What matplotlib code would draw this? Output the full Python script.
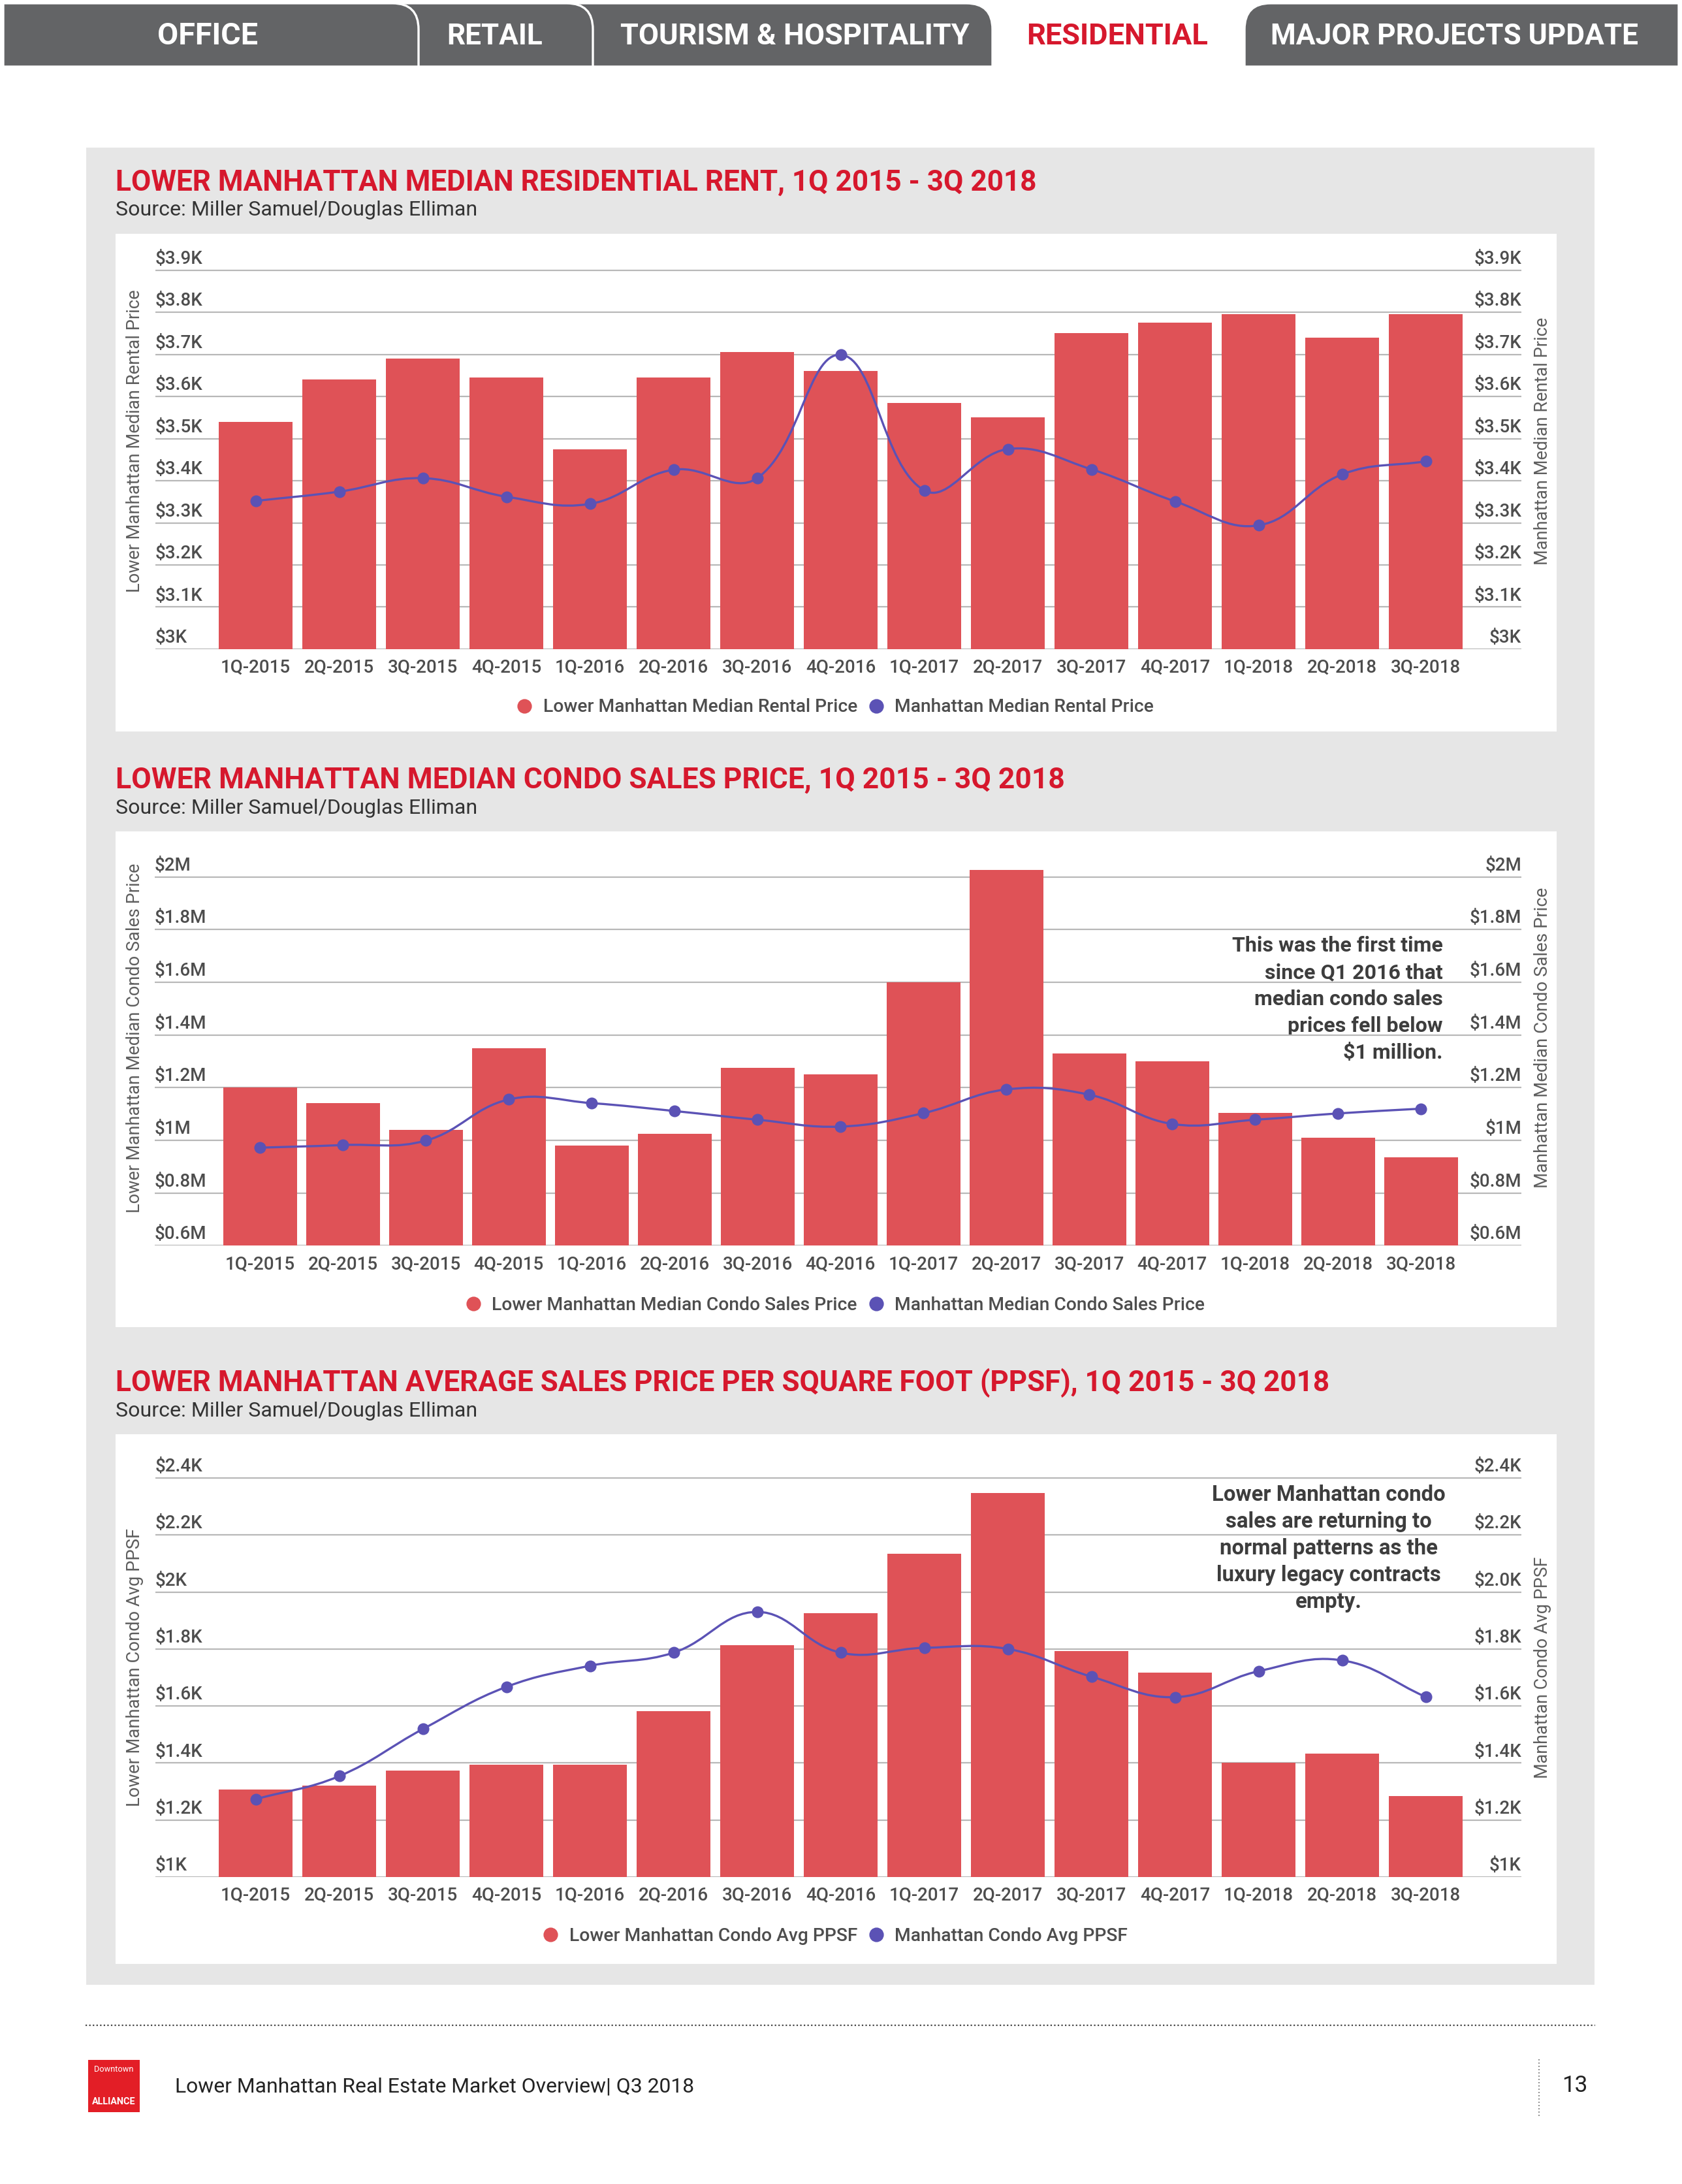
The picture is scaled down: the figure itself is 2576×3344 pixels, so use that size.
import math
import matplotlib
matplotlib.use("Agg")
import matplotlib.pyplot as plt
from matplotlib.path import Path
from matplotlib.patches import PathPatch, Rectangle
from matplotlib.lines import Line2D
from matplotlib import transforms, font_manager

W, H = 2576, 3344
DPI = 200

# ---- data ----
quarters = ['1Q-2015', '2Q-2015', '3Q-2015', '4Q-2015', '1Q-2016', '2Q-2016', '3Q-2016', '4Q-2016',
            '1Q-2017', '2Q-2017', '3Q-2017', '4Q-2017', '1Q-2018', '2Q-2018', '3Q-2018']

# median rent, dollars
rent_lower = [3540, 3640, 3690, 3645, 3475, 3645, 3705, 3660, 3585, 3550, 3750, 3775, 3795, 3740, 3795]
rent_manhattan = [3352, 3374, 3406, 3362, 3345, 3426, 3406, 3699, 3377, 3475, 3427, 3351, 3294, 3415, 3446]
rent_ticks = [3000, 3100, 3200, 3300, 3400, 3500, 3600, 3700, 3800, 3900]
rent_labels_left = ['$3K', '$3.1K', '$3.2K', '$3.3K', '$3.4K', '$3.5K', '$3.6K', '$3.7K', '$3.8K', '$3.9K']
rent_labels_right = rent_labels_left

# median condo price, $M
condo_lower = [1.20, 1.14, 1.04, 1.35, 0.98, 1.025, 1.275, 1.25, 1.60, 2.025, 1.33, 1.30, 1.105, 1.01, 0.935]
condo_manhattan = [0.972, 0.982, 0.999, 1.155, 1.141, 1.111, 1.078, 1.052, 1.103, 1.193, 1.173, 1.062, 1.078, 1.102, 1.120]
condo_ticks = [0.6, 0.8, 1.0, 1.2, 1.4, 1.6, 1.8, 2.0]
condo_labels_left = ['$0.6M', '$0.8M', '$1M', '$1.2M', '$1.4M', '$1.6M', '$1.8M', '$2M']
condo_labels_right = condo_labels_left

# avg ppsf, $K
ppsf_lower = [1.307, 1.320, 1.373, 1.395, 1.395, 1.581, 1.814, 1.926, 2.135, 2.347, 1.792, 1.718, 1.401, 1.432, 1.283]
ppsf_manhattan = [1.273, 1.354, 1.519, 1.667, 1.741, 1.787, 1.930, 1.787, 1.804, 1.800, 1.703, 1.631, 1.722, 1.760, 1.632]
ppsf_ticks = [1.0, 1.2, 1.4, 1.6, 1.8, 2.0, 2.2, 2.4]
ppsf_labels_left = ['$1K', '$1.2K', '$1.4K', '$1.6K', '$1.8K', '$2K', '$2.2K', '$2.4K']
ppsf_labels_right = ['$1K', '$1.2K', '$1.4K', '$1.6K', '$1.8K', '$2.0K', '$2.2K', '$2.4K']

tabs = ['OFFICE', 'RETAIL', 'TOURISM & HOSPITALITY', 'RESIDENTIAL', 'MAJOR PROJECTS UPDATE']

RED = '#df5257'
PURPLE = '#5b52b5'
TITLE_RED = '#d6182d'
TXT = '#4d4d4d'
TAB_GREY = '#636466'

plt.rcParams['font.family'] = ['Roboto', 'DejaVu Sans']
names = {f.name for f in font_manager.fontManager.ttflist}
NARROW = 'Liberation Sans Narrow' if 'Liberation Sans Narrow' in names else 'Roboto'

fig = plt.figure(figsize=(W / DPI, H / DPI), dpi=DPI)
fig.patch.set_facecolor('white')
bg = fig.add_axes([0, 0, 1, 1])
bg.set_xlim(0, W)
bg.set_ylim(H, 0)
bg.axis('off')


def fit(t, width):
    r = fig.canvas.get_renderer()
    w = t.get_window_extent(r).width
    t.set_fontsize(t.get_fontsize() * width / w)
    return t.get_fontsize()


def tab_patch(x0, x1, y0, y1, r, color, left_round=False):
    if left_round:
        verts = [(x1, y1), (x0, y1), (x0, y0 + r), (x0, y0), (x0 + r, y0), (x1, y0), (x1, y1)]
        codes = [Path.MOVETO, Path.LINETO, Path.LINETO, Path.CURVE3, Path.CURVE3, Path.LINETO, Path.CLOSEPOLY]
    else:
        verts = [(x0, y1), (x0, y0), (x1 - r, y0), (x1, y0), (x1, y0 + r), (x1, y1), (x0, y1)]
        codes = [Path.MOVETO, Path.LINETO, Path.LINETO, Path.CURVE3, Path.CURVE3, Path.LINETO, Path.CLOSEPOLY]
    bg.add_patch(PathPatch(Path(verts, codes), fc=color, ec='white', lw=1.2))


# ---- header tabs ----
tab_patch(1906, 2571, 5, 102, 40, TAB_GREY, left_round=True)
tab_patch(860, 1520, 5, 102, 40, TAB_GREY)
tab_patch(590, 908, 5, 102, 40, TAB_GREY)
tab_patch(5, 641, 5, 102, 40, TAB_GREY)
tab_cx = [318, 758, 1217, 1711, 2228]
tab_w = [154, 147, 535, 279, 563]
for name, cx, w in zip(tabs, tab_cx, tab_w):
    c = TITLE_RED if name == 'RESIDENTIAL' else 'white'
    t = bg.text(cx, 68, name, color=c, fontsize=14, fontweight='bold', ha='center', va='baseline')
    fit(t, w)

# ---- grey panel and white boxes ----
bg.add_patch(Rectangle((132, 226), 2310, 2813, color='#e6e6e6', lw=0))
for y0, y1 in [(358, 1120), (1273, 2032), (2196, 3007)]:
    bg.add_patch(Rectangle((177, y0), 2207, y1 - y0, color='white', lw=0))


def spline(ax, xs, ys, sx, sy, color, tension=0.4):
    n = len(xs)
    pts = list(zip(xs, ys))
    cps = []
    for i in range(n):
        px, py = pts[max(i - 1, 0)]
        cx, cy = pts[i]
        nx, ny = pts[min(i + 1, n - 1)]
        d01 = math.hypot((cx - px) * sx, (cy - py) * sy)
        d12 = math.hypot((nx - cx) * sx, (ny - cy) * sy)
        tot = (d01 + d12) or 1.0
        fa, fb = tension * d01 / tot, tension * d12 / tot
        cps.append(((cx - fa * (nx - px), cy - fa * (ny - py)),
                    (cx + fb * (nx - px), cy + fb * (ny - py))))
    verts = [pts[0]]
    codes = [Path.MOVETO]
    for i in range(n - 1):
        verts += [cps[i][1], cps[i + 1][0], pts[i + 1]]
        codes += [Path.CURVE4] * 3
    ax.add_patch(PathPatch(Path(verts, codes), fc='none', ec=color, lw=1.2, zorder=3))


def chart(title, title_w, tb, src_b, lower, manh, ticks, lab_l, lab_r, lo, hi, y0px, ppu,
          c0, pitch, xl, xr, ytitle_l, ytitle_r, ytitle_cy, ytitle_w, leg_labels, leg_y):
    t = bg.text(177, tb, title, color=TITLE_RED, fontsize=15, fontweight='bold', va='baseline')
    fit(t, title_w)
    s = bg.text(177, src_b, 'Source: Miller Samuel/Douglas Elliman', color='#333333', fontsize=10, va='baseline')
    fit(s, 552)

    top = y0px - (hi - lo) * ppu
    ax = fig.add_axes([xl / W, 1 - y0px / H, (xr - xl) / W, (y0px - top) / H])
    ax.patch.set_visible(False)
    ax.set_xlim((xl - c0) / pitch, (xr - c0) / pitch)
    ax.set_ylim(lo, hi)
    for sp in ax.spines.values():
        sp.set_visible(False)
    x = list(range(len(quarters)))
    for tk in ticks:
        ax.axhline(tk, color='#b8b8b8', lw=0.8, zorder=1)
    ax.bar(x, lower, width=0.89, color=RED, zorder=2)
    spline(ax, x, manh, pitch, ppu, PURPLE)
    ax.plot(x, manh, 'o', color=PURPLE, ms=5.5, zorder=4)

    ax.set_yticks([])
    ax.set_xticks(x)
    ax.set_xticklabels(quarters, fontsize=10, color=TXT, fontweight='medium')
    ax.tick_params(axis='x', length=0, pad=5.5)

    tr = transforms.offset_copy(transforms.blended_transform_factory(ax.transAxes, ax.transData),
                                fig=fig, y=1.4, units='points')
    for tk, a, b in zip(ticks, lab_l, lab_r):
        ax.text(0, tk, a, transform=tr, ha='left', va='bottom', fontsize=10, color=TXT, fontweight='medium')
        ax.text(1, tk, b, transform=tr, ha='right', va='bottom', fontsize=10, color=TXT, fontweight='medium')

    for xpos, lab, w in [(207, ytitle_l, ytitle_w[0]), (2363, ytitle_r, ytitle_w[1])]:
        yt = bg.text(xpos, ytitle_cy, lab, rotation=90, ha='center', va='center', fontsize=10,
                     color='#5e5e5e')
        r = fig.canvas.get_renderer()
        yt.set_fontsize(yt.get_fontsize() * w / yt.get_window_extent(r).height)

    handles = [Line2D([], [], marker='o', ls='', color=RED, ms=7),
               Line2D([], [], marker='o', ls='', color=PURPLE, ms=7)]
    fig.legend(handles, leg_labels, loc='center', bbox_to_anchor=(1280 / W, 1 - leg_y / H), ncol=2,
               frameon=False, prop={'size': 10.2, 'weight': 'medium'}, labelcolor=TXT,
               handlelength=0.7, handletextpad=0.66, columnspacing=0.66, borderpad=0, borderaxespad=0)
    return ax


chart('LOWER MANHATTAN MEDIAN RESIDENTIAL RENT, 1Q 2015 - 3Q 2018', 1412, 292, 330,
      rent_lower, rent_manhattan, rent_ticks, rent_labels_left, rent_labels_right,
      3000, 3930, 994, 0.645, 391.5, 128, 238, 2330,
      'Lower Manhattan Median Rental Price', 'Manhattan Median Rental Price', 675, (463, 377),
      ['Lower Manhattan Median Rental Price', 'Manhattan Median Rental Price'], 1083)

chart('LOWER MANHATTAN MEDIAN CONDO SALES PRICE, 1Q 2015 - 3Q 2018', 1450, 1207, 1246,
      condo_lower, condo_manhattan, condo_ticks, condo_labels_left, condo_labels_right,
      0.6, 2.06, 1907.3, 403.4, 398.3, 127, 237, 2330,
      'Lower Manhattan Median Condo Sales Price', 'Manhattan Median Condo Sales Price', 1589, (533, 458),
      ['Lower Manhattan Median Condo Sales Price', 'Manhattan Median Condo Sales Price'], 1998)

chart('LOWER MANHATTAN AVERAGE SALES PRICE PER SQUARE FOOT (PPSF), 1Q 2015 - 3Q 2018', 1860, 2130, 2169,
      ppsf_lower, ppsf_manhattan, ppsf_ticks, ppsf_labels_left, ppsf_labels_right,
      1.0, 2.42, 2874, 436.5, 391.5, 128, 238, 2330,
      'Lower Manhattan Condo Avg PPSF', 'Manhattan Condo Avg PPSF', 2553, (426, 339),
      ['Lower Manhattan Condo Avg PPSF', 'Manhattan Condo Avg PPSF'], 2964)

# ---- annotations ----
note2 = ['This was the first time', 'since Q1 2016 that', 'median condo sales', 'prices fell below', '$1 million.']
t = bg.text(2210, 1457, note2[0], ha='right', va='baseline', fontsize=11, fontweight='bold', color='#3d3d3d')
fs = fit(t, 322)
for i, line in enumerate(note2[1:], 1):
    bg.text(2210, 1457 + 41 * i, line, ha='right', va='baseline', fontsize=fs, fontweight='bold', color='#3d3d3d')

note3 = ['Lower Manhattan condo', 'sales are returning to', 'normal patterns as the', 'luxury legacy contracts', 'empty.']
t = bg.text(2035, 2298, note3[0], ha='center', va='baseline', fontsize=11, fontweight='bold', color='#3d3d3d')
fs = fit(t, 357)
for i, line in enumerate(note3[1:], 1):
    bg.text(2035, 2298 + 41 * i, line, ha='center', va='baseline', fontsize=fs, fontweight='bold', color='#3d3d3d')

# ---- footer ----
bg.plot([131, 2443], [3101, 3101], color='#444444', lw=0.8, ls=(0, (1, 1.5)))
bg.add_patch(Rectangle((135, 3154), 79, 80, color='#e31e26', lw=0))
bg.text(174.5, 3168, 'Downtown', color='white', fontsize=4.6, ha='center', va='center', family=NARROW)
bg.text(174.5, 3218, 'ALLIANCE', color='white', fontsize=5.2, ha='center', va='center',
        fontweight='bold', family=NARROW)
ft = bg.text(268, 3203, 'Lower Manhattan Real Estate Market Overview| Q3 2018', color='#222222',
             fontsize=14, va='baseline', family=NARROW, fontstretch='condensed')
fit(ft, 795)
bg.plot([2357, 2357], [3153, 3240], color='#666666', lw=0.6, ls=(0, (1, 2)))
pn = bg.text(2412, 3203, '13', color='#222222', fontsize=ft.get_fontsize() * 1.1, va='baseline',
             ha='center', family=NARROW)

fig.savefig('out.png', dpi=DPI)
